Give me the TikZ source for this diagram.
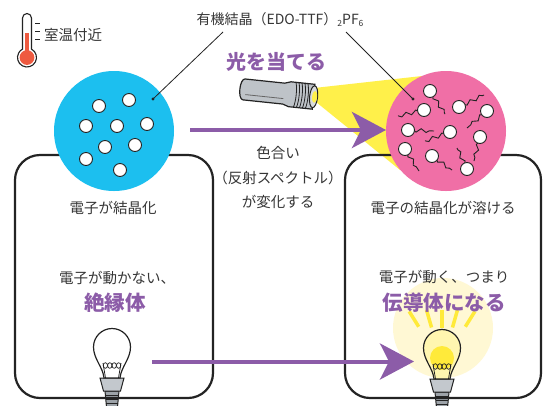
\documentclass[tikz,border=0pt]{standalone}
\usepackage{fontspec}
\newfontfamily\jp{Noto Sans CJK JP}
\usetikzlibrary{arrows.meta,decorations.pathmorphing}

\definecolor{ink}{HTML}{363636}
\definecolor{outline}{HTML}{232323}
\definecolor{cyanball}{HTML}{1CBFEF}
\definecolor{pinkball}{HTML}{F06FA6}
\definecolor{beam}{HTML}{FFF04A}
\definecolor{violet}{HTML}{8C5CA8}
\definecolor{glow}{HTML}{FFF8D4}
\definecolor{glassyellow}{HTML}{FFF6B0}
\definecolor{bulbyellow}{HTML}{FFEA3A}
\definecolor{metal}{HTML}{9DA3A9}
\definecolor{metallight}{HTML}{C3C8CD}
\definecolor{torch}{HTML}{BEC3C8}
\definecolor{mercury}{HTML}{EE5A40}

\tikzset{
  pics/bulb/.style 2 args={code={
    % screw base
    \filldraw[fill=metal, draw=outline, line width=1pt]
      (-7,44) -- (7,44) -- (5.5,60) -- (-5.5,60) -- cycle;
    \draw[outline, line width=0.8pt]
      (-6.7,48) -- (6.7,48) (-6.3,52) -- (6.3,52) (-6,56) -- (6,56);
    \filldraw[fill=metallight, draw=outline, line width=1pt]
      (-12,31) -- (12,31) -- (8.5,44) -- (-8.5,44) -- cycle;
    % glass
    \filldraw[fill=#1, draw=outline, line width=1.2pt]
      (-8,31) .. controls (-9,20) and (-18.5,12) .. (-18.5,0)
      arc[start angle=180, end angle=360, radius=18.5]
      .. controls (18.5,12) and (9,20) .. (8,31) -- cycle;
    \fill[#2] (0,10) circle[radius=12];
    % filament
    \draw[outline, line width=0.8pt] (-6.5,31) -- (-9,16) (6.5,31) -- (9,16);
    \foreach \u in {-6.6,-2.2,2.2,6.6}
      \draw[outline, line width=0.7pt] (\u,18.5) ellipse[x radius=2.2, y radius=2.8];
  }},
}

\begin{document}
\begin{tikzpicture}[x=1pt, y=-1pt,
  txt/.style={font=\jp\fontsize{14.5}{17}\selectfont, text=ink, inner sep=0pt},
  big/.style={font=\jp\bfseries\fontsize{20.5}{24}\selectfont, text=violet, inner sep=0pt},
  panel/.style={draw=outline, line width=2.2pt, rounded corners=25pt},
  electron/.style={circle, draw=outline, fill=white, line width=0.9pt, minimum size=13pt, inner sep=0pt},
  tail/.style={draw=outline, line width=0.9pt, decorate,
    decoration={snake, amplitude=1.8pt, segment length=10pt}},
  flow/.style={draw=violet, line width=4pt, -{Stealth[length=34pt, width=36pt, inset=9pt]}},
  leader/.style={draw=outline, line width=0.8pt},
  ray/.style={draw=bulbyellow, line width=3.5pt},
]
\useasboundingbox (0,0) rectangle (545,405);
\fill[white] (0,0) rectangle (545,405);

% halo and rays of the lit bulb
\fill[glow] (443,328) circle[radius=50];
\foreach \a/\ri/\ro in {238/44/62, 254/38/56, 270/36/54, 286/38/56, 302/44/62}
  \draw[ray, shift={(442,364)}] (\a:\ri) -- (\a:\ro);

% bulbs
\pic (darkbulb) at (112,347) {bulb={white}{white}};
\pic (litbulb) at (442,348) {bulb={glassyellow}{bulbyellow}};

% light beam from the torch
\fill[beam] (314,88) -- (422,76) -- (446,131) -- (400,170) -- (316,102) -- cycle;

% the two panels
\draw[panel] (15,398) -- (15,155) -- (213,155) -- (213,398) -- cycle;
\draw[panel] (345,398) -- (345,155) -- (541,155) -- (541,398) -- cycle;

% crystal discs
\fill[cyanball] (114,131) circle[radius=60];
\fill[pinkball] (446,131) circle[radius=60];

% localized electrons
\foreach \n/\x/\y in {1/99/106, 2/129/100, 3/86/126, 4/117/126, 5/147/124,
                      6/105/147, 7/135/145, 8/86/159, 9/120/170}
  \node[electron] (be\n) at (\x,\y) {};

% mobile electrons with tails
\foreach \n/\x/\y/\tx/\ty in {1/430/91/445/114, 2/424/110/398/116, 3/459/107/484/95,
    4/487/111/467/128, 5/408/130/434/131, 6/450/132/425/141, 7/480/137/474/161,
    8/405/149/419/171, 9/432/156/452/170, 10/467/169/457/148}{
  \coordinate (pc\n) at (\x,\y);
  \coordinate (pt\n) at (\tx,\ty);
  \draw[tail] (pc\n) -- (pt\n);
  \node[electron] (pe\n) at (pc\n) {};
}

% material label with leader lines
\node[txt, font=\jp\fontsize{14}{16}\selectfont] (material) at (280,20)
  {有機結晶（EDO-TTF）{\fontsize{8.5}{8.5}\selectfont\raisebox{-2pt}{2}}PF{\fontsize{8.5}{8.5}\selectfont\raisebox{-2pt}{6}}};
\coordinate (leadA) at (223,32);
\coordinate (leadB) at (346,32);
\coordinate (dotA) at (153,99);
\coordinate (dotB) at (413,99);
\draw[leader] (leadA) -- (dotA);
\draw[leader] (leadB) -- (dotB);
\fill[outline] (dotA) circle[radius=1.7];
\fill[outline] (dotB) circle[radius=1.7];

% torch
\begin{scope}[shift={(240,89)}, rotate=-6]
  \filldraw[fill=torch, draw=outline, line width=1.2pt]
    (4,-10.5) -- (44,-10.5) -- (50,-12.5) -- (74,-12.5) -- (74,12.5) -- (50,12.5)
    -- (44,10.5) -- (4,10.5) .. controls (-1.5,10.5) and (-1.5,-10.5) .. (4,-10.5) -- cycle;
  \draw[outline!70, line width=0.8pt] (6,5) -- (44,5);
  \foreach \u in {55,58,61,64,67}
    \draw[outline, line width=0.8pt] (\u,-12.5) .. controls (\u+2,-6) and (\u+2,6) .. (\u,12.5);
  \filldraw[fill=torch!60, draw=outline, line width=1pt] (74,0) ellipse[x radius=4, y radius=11];
  \fill[beam] (75,0) ellipse[x radius=2.5, y radius=6];
\end{scope}

% transition arrows
\coordinate (topA) at (190,130);
\coordinate (topB) at (386,130);
\coordinate (botA) at (152,361.5);
\coordinate (botB) at (414,361.5);
\draw[flow] (topA) -- (topB);
\draw[flow] (botA) -- (botB);

% thermometer
\filldraw[fill=white, draw=outline, line width=1.1pt]
  (22.5,49.13) -- (22.5,18) arc[start angle=180, end angle=360, radius=4.5]
  -- (31.5,49.13) arc[start angle=-61.7, end angle=241.7, radius=9.5] -- cycle;
\fill[mercury] (24.6,33) rectangle (29.4,52);
\fill[mercury] (27,57.5) circle[radius=7.4];
\draw[outline, line width=1pt] (35,23.3) -- (40,23.3) (35,31.3) -- (40,31.3) (35,39.5) -- (40,39.5);
\node[txt, anchor=west] (temp) at (44,35) {室温付近};

% captions
\node[big, font=\jp\bfseries\fontsize{20}{24}\selectfont] (irradiate) at (276,62) {光を当てる};
\node[txt, align=center, font=\jp\fontsize{14.5}{24.5}\selectfont] (colour) at (278,177.5)
  {色合い\\（反射スペクトル）\\が変化する};
\node[txt] (leftA) at (113,208) {電子が結晶化};
\node[txt] (leftB) at (117,278) {電子が動かない、};
\node[big] (leftC) at (115,303) {絶縁体};
\node[txt] (rightA) at (443,208) {電子の結晶化が溶ける};
\node[txt] (rightB) at (444,277) {電子が動く、つまり};
\node[big] (rightC) at (444,303) {伝導体になる};
\end{tikzpicture}
\end{document}
